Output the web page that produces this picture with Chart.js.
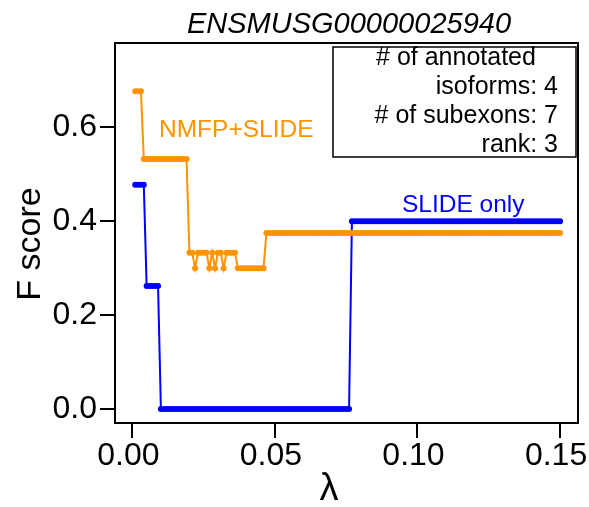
<!DOCTYPE html>
<html>
<head>
<meta charset="utf-8">
<script src="https://cdn.jsdelivr.net/npm/chart.js@4.4.1/dist/chart.umd.min.js"></script>
<style>
    html, body { margin: 0; padding: 0; background: #fff; }
    canvas { display: block; }
</style>
</head>
<body>
<canvas id="fscoreChart" width="589" height="507"></canvas>
<script>
// Lambda grid (x values)
const lambda = [
    0.001, 0.002, 0.003, 0.004, 0.005, 0.006, 0.007, 0.008, 0.009, 0.010,
    0.011, 0.012, 0.013, 0.014, 0.015, 0.016, 0.017, 0.018, 0.019, 0.020,
    0.021, 0.022, 0.023, 0.024, 0.025, 0.026, 0.027, 0.028, 0.029, 0.030,
    0.031, 0.032, 0.033, 0.034, 0.035, 0.036, 0.037, 0.038, 0.039, 0.040,
    0.041, 0.042, 0.043, 0.044, 0.045, 0.046, 0.047, 0.048, 0.049, 0.050,
    0.051, 0.052, 0.053, 0.054, 0.055, 0.056, 0.057, 0.058, 0.059, 0.060,
    0.061, 0.062, 0.063, 0.064, 0.065, 0.066, 0.067, 0.068, 0.069, 0.070,
    0.071, 0.072, 0.073, 0.074, 0.075, 0.076, 0.077, 0.078, 0.079, 0.080,
    0.081, 0.082, 0.083, 0.084, 0.085, 0.086, 0.087, 0.088, 0.089, 0.090,
    0.091, 0.092, 0.093, 0.094, 0.095, 0.096, 0.097, 0.098, 0.099, 0.100,
    0.101, 0.102, 0.103, 0.104, 0.105, 0.106, 0.107, 0.108, 0.109, 0.110,
    0.111, 0.112, 0.113, 0.114, 0.115, 0.116, 0.117, 0.118, 0.119, 0.120,
    0.121, 0.122, 0.123, 0.124, 0.125, 0.126, 0.127, 0.128, 0.129, 0.130,
    0.131, 0.132, 0.133, 0.134, 0.135, 0.136, 0.137, 0.138, 0.139, 0.140,
    0.141, 0.142, 0.143, 0.144, 0.145, 0.146, 0.147, 0.148, 0.149, 0.150
];

// F score, NMFP+SLIDE
const nmfpSlide = [
    0.677, 0.677, 0.677, 0.533, 0.533, 0.533, 0.533, 0.533, 0.533, 0.533,
    0.533, 0.533, 0.533, 0.533, 0.533, 0.533, 0.533, 0.533, 0.533, 0.333,
    0.333, 0.300, 0.333, 0.333, 0.333, 0.333, 0.300, 0.333, 0.300, 0.333,
    0.333, 0.300, 0.333, 0.333, 0.333, 0.333, 0.300, 0.300, 0.300, 0.300,
    0.300, 0.300, 0.300, 0.300, 0.300, 0.300, 0.375, 0.375, 0.375, 0.375,
    0.375, 0.375, 0.375, 0.375, 0.375, 0.375, 0.375, 0.375, 0.375, 0.375,
    0.375, 0.375, 0.375, 0.375, 0.375, 0.375, 0.375, 0.375, 0.375, 0.375,
    0.375, 0.375, 0.375, 0.375, 0.375, 0.375, 0.375, 0.375, 0.375, 0.375,
    0.375, 0.375, 0.375, 0.375, 0.375, 0.375, 0.375, 0.375, 0.375, 0.375,
    0.375, 0.375, 0.375, 0.375, 0.375, 0.375, 0.375, 0.375, 0.375, 0.375,
    0.375, 0.375, 0.375, 0.375, 0.375, 0.375, 0.375, 0.375, 0.375, 0.375,
    0.375, 0.375, 0.375, 0.375, 0.375, 0.375, 0.375, 0.375, 0.375, 0.375,
    0.375, 0.375, 0.375, 0.375, 0.375, 0.375, 0.375, 0.375, 0.375, 0.375,
    0.375, 0.375, 0.375, 0.375, 0.375, 0.375, 0.375, 0.375, 0.375, 0.375,
    0.375, 0.375, 0.375, 0.375, 0.375, 0.375, 0.375, 0.375, 0.375, 0.375
];

// F score, SLIDE only
const slideOnly = [
    0.478, 0.478, 0.478, 0.478, 0.262, 0.262, 0.262, 0.262, 0.262, 0,
    0, 0, 0, 0, 0, 0, 0, 0, 0, 0,
    0, 0, 0, 0, 0, 0, 0, 0, 0, 0,
    0, 0, 0, 0, 0, 0, 0, 0, 0, 0,
    0, 0, 0, 0, 0, 0, 0, 0, 0, 0,
    0, 0, 0, 0, 0, 0, 0, 0, 0, 0,
    0, 0, 0, 0, 0, 0, 0, 0, 0, 0,
    0, 0, 0, 0, 0, 0, 0.4, 0.4, 0.4, 0.4,
    0.4, 0.4, 0.4, 0.4, 0.4, 0.4, 0.4, 0.4, 0.4, 0.4,
    0.4, 0.4, 0.4, 0.4, 0.4, 0.4, 0.4, 0.4, 0.4, 0.4,
    0.4, 0.4, 0.4, 0.4, 0.4, 0.4, 0.4, 0.4, 0.4, 0.4,
    0.4, 0.4, 0.4, 0.4, 0.4, 0.4, 0.4, 0.4, 0.4, 0.4,
    0.4, 0.4, 0.4, 0.4, 0.4, 0.4, 0.4, 0.4, 0.4, 0.4,
    0.4, 0.4, 0.4, 0.4, 0.4, 0.4, 0.4, 0.4, 0.4, 0.4,
    0.4, 0.4, 0.4, 0.4, 0.4, 0.4, 0.4, 0.4, 0.4, 0.4
];

// Tick positions
const xTicks = [0, 0.05, 0.10, 0.15];
const yTicks = [0, 0.2, 0.4, 0.6];

// Texts
const geneName = 'ENSMUSG00000025940';
const infoLines = ['# of annotated', 'isoforms: 4', '# of subexons: 7', 'rank: 3'];

const ORANGE = '#FF9300';
const BLUE = '#0000FF';
const FONT = '"Liberation Sans", Arial, Helvetica, sans-serif';

function toPoints(xs, ys) {
    return xs.map((x, i) => ({ x: x, y: ys[i] }));
}

// Plugin para dibujar marco, titulo y anotaciones
const annotationsPlugin = {
    id: 'annotations',
    afterDraw(chart) {
        const ctx = chart.ctx;
        const a = chart.chartArea;
        ctx.save();

        // plot box
        ctx.strokeStyle = '#000';
        ctx.lineWidth = 2;
        ctx.strokeRect(a.left, a.top, a.right - a.left, a.bottom - a.top);

        // title
        ctx.fillStyle = '#000';
        ctx.font = 'italic 29px ' + FONT;
        ctx.textAlign = 'center';
        ctx.textBaseline = 'alphabetic';
        ctx.fillText(geneName, 349, 33);

        // y axis title
        ctx.save();
        ctx.translate(40, 244);
        ctx.rotate(-Math.PI / 2);
        ctx.font = '34px ' + FONT;
        ctx.fillText('F score', 0, 0);
        ctx.restore();

        // x axis title
        ctx.font = '38px ' + FONT;
        ctx.fillText('λ', 329, 500);

        // info box
        ctx.lineWidth = 1.5;
        ctx.strokeRect(333, 47, 243, 110);
        ctx.font = '25px ' + FONT;
        ctx.fillText(infoLines[0], 456, 65);
        ctx.textAlign = 'right';
        ctx.fillText(infoLines[1], 558, 94);
        ctx.fillText(infoLines[2], 558, 123);
        ctx.fillText(infoLines[3], 558, 152);

        // series labels
        ctx.textAlign = 'left';
        ctx.font = '24.5px ' + FONT;
        ctx.fillStyle = ORANGE;
        ctx.fillText('NMFP+SLIDE', 159, 137);
        ctx.fillStyle = BLUE;
        ctx.fillText('SLIDE only', 402, 212);

        ctx.restore();
    }
};

const ctx = document.getElementById('fscoreChart');

const fscoreChart = new Chart(ctx, {
    type: 'line',
    data: {
        datasets: [{
            label: 'NMFP+SLIDE',
            data: toPoints(lambda, nmfpSlide),
            borderColor: ORANGE,
            backgroundColor: ORANGE,
            borderWidth: 2,
            pointRadius: 3,
            pointBorderWidth: 0,
            pointBackgroundColor: ORANGE,
            tension: 0,
            order: 0
        }, {
            label: 'SLIDE only',
            data: toPoints(lambda, slideOnly),
            borderColor: BLUE,
            backgroundColor: BLUE,
            borderWidth: 2,
            pointRadius: 3,
            pointBorderWidth: 0,
            pointBackgroundColor: BLUE,
            tension: 0,
            order: 1
        }]
    },
    options: {
        responsive: false,
        animation: false,
        devicePixelRatio: 1,
        layout: {
            padding: { top: 43, right: 11, left: 0, bottom: 0 }
        },
        plugins: {
            legend: { display: false },
            tooltip: { enabled: false }
        },
        scales: {
            x: {
                type: 'linear',
                min: -0.0061,
                max: 0.1563,
                afterBuildTicks: function (scale) {
                    scale.ticks = xTicks.map(v => ({ value: v }));
                },
                afterFit: function (scale) {
                    // fixed height, no extra room for the end labels
                    scale.height = 84;
                    scale.paddingLeft = 0;
                    scale.paddingRight = 0;
                },
                grid: {
                    drawOnChartArea: false,
                    drawTicks: true,
                    tickLength: 15,
                    color: '#000',
                    lineWidth: 2
                },
                border: { display: false },
                ticks: {
                    color: '#000',
                    padding: -1,
                    labelOffset: -4,
                    maxRotation: 0,
                    font: { family: FONT, size: 32 },
                    callback: v => v.toFixed(2)
                }
            },
            y: {
                min: -0.03,
                max: 0.78,
                afterBuildTicks: function (scale) {
                    scale.ticks = yTicks.map(v => ({ value: v }));
                },
                afterFit: function (scale) {
                    scale.width = 115;
                    scale.paddingTop = 0;
                    scale.paddingBottom = 0;
                },
                grid: {
                    drawOnChartArea: false,
                    drawTicks: true,
                    tickLength: 15,
                    color: '#000',
                    lineWidth: 2
                },
                border: { display: false },
                ticks: {
                    color: '#000',
                    padding: 3,
                    font: { family: FONT, size: 32 },
                    callback: v => v.toFixed(1)
                }
            }
        }
    },
    plugins: [annotationsPlugin]
});
</script>
</body>
</html>
